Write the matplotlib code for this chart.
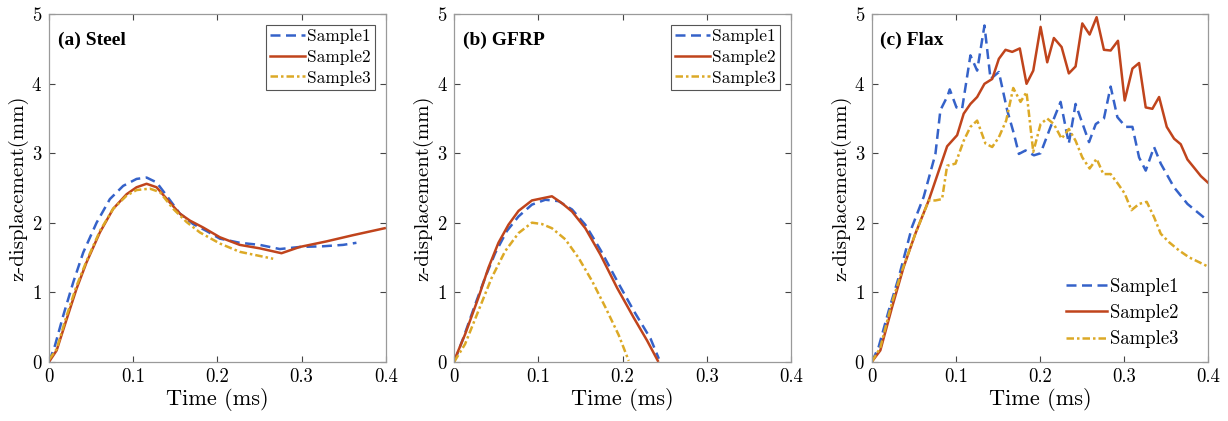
import numpy as np
import matplotlib
matplotlib.use("Agg")
import matplotlib.pyplot as plt

# (a) Steel
steel_t1 = [0, 0.0068, 0.0166, 0.0285, 0.0404, 0.0563, 0.0721, 0.0879, 0.1038, 0.1157, 0.1276,
            0.1395, 0.1553, 0.1711, 0.187, 0.2028, 0.2265, 0.2503, 0.2741, 0.2978, 0.3255, 0.3493, 0.3652]
steel_z1 = [0, 0.23, 0.66, 1.14, 1.57, 2.0, 2.34, 2.53, 2.63, 2.65, 2.58,
            2.39, 2.13, 1.98, 1.88, 1.77, 1.71, 1.68, 1.62, 1.65, 1.66, 1.68, 1.71]
steel_t2 = [0, 0.0088, 0.0207, 0.0325, 0.0444, 0.0602, 0.076, 0.092, 0.1038, 0.1157, 0.1276,
            0.1434, 0.1553, 0.1672, 0.183, 0.2028, 0.2265, 0.2503, 0.2761, 0.2978, 0.3295, 0.3612, 0.3988]
steel_z2 = [0, 0.16, 0.61, 1.05, 1.43, 1.86, 2.20, 2.41, 2.51, 2.56, 2.51,
            2.29, 2.13, 2.03, 1.93, 1.79, 1.68, 1.63, 1.56, 1.65, 1.73, 1.82, 1.92]
steel_t3 = [0, 0.0088, 0.0207, 0.0325, 0.0444, 0.0602, 0.076, 0.092, 0.1038, 0.1196, 0.1315,
            0.1473, 0.1632, 0.179, 0.2028, 0.2265, 0.2464, 0.2662]
steel_z3 = [0.03, 0.18, 0.66, 1.09, 1.45, 1.88, 2.20, 2.39, 2.47, 2.49, 2.44,
            2.20, 2.01, 1.86, 1.70, 1.58, 1.53, 1.48]

# (b) GFRP
gfrp_t1 = [0, 0.0107, 0.0247, 0.0366, 0.0485, 0.0624, 0.0763, 0.0922, 0.1081, 0.1239, 0.1399,
           0.1557, 0.1736, 0.1935, 0.2133, 0.2332, 0.2431]
gfrp_z1 = [0, 0.34, 0.82, 1.21, 1.56, 1.88, 2.09, 2.26, 2.33, 2.31, 2.19,
           1.97, 1.61, 1.16, 0.73, 0.33, 0.04]
gfrp_t2 = [0, 0.0127, 0.0286, 0.0405, 0.0524, 0.0643, 0.0763, 0.0922, 0.1041, 0.116, 0.128,
           0.1399, 0.1557, 0.1736, 0.1935, 0.2133, 0.2292, 0.2419]
gfrp_z2 = [0.02, 0.39, 0.92, 1.35, 1.71, 1.97, 2.17, 2.32, 2.35, 2.38, 2.28,
           2.16, 1.92, 1.54, 1.06, 0.63, 0.30, 0.01]
gfrp_t3 = [0, 0.0127, 0.0286, 0.0445, 0.0604, 0.0763, 0.0922, 0.1041, 0.116, 0.1319, 0.1478,
           0.1637, 0.1796, 0.1954, 0.2073]
gfrp_z3 = [0, 0.25, 0.73, 1.21, 1.59, 1.85, 2.0, 1.98, 1.92, 1.76, 1.49,
           1.16, 0.78, 0.38, 0.01]

# (c) Flax
flax_t1 = [0, 0.0079, 0.0198, 0.0317, 0.0476, 0.0614, 0.0754, 0.0813, 0.09, 0.0924, 0.1004,
           0.1071, 0.117, 0.125, 0.1337, 0.1409, 0.1508, 0.1607, 0.1687, 0.1746, 0.1825,
           0.1925, 0.2004, 0.2123, 0.2242, 0.234, 0.242, 0.258, 0.266, 0.2757, 0.2837,
           0.2917, 0.3016, 0.3096, 0.3175, 0.3254, 0.3353, 0.3433, 0.359, 0.375, 0.387, 0.399]
flax_z1 = [0, 0.21, 0.73, 1.21, 1.94, 2.37, 2.99, 3.62, 3.83, 3.92, 3.66,
           3.64, 4.41, 4.19, 4.84, 4.07, 4.17, 3.62, 3.28, 2.99, 3.04,
           2.97, 3.0, 3.38, 3.74, 3.14, 3.71, 3.16, 3.42, 3.50, 3.96,
           3.52, 3.38, 3.38, 2.94, 2.75, 3.09, 2.85, 2.51, 2.27, 2.15, 2.03]
flax_t2 = [0, 0.0099, 0.0238, 0.0376, 0.0515, 0.0674, 0.0893, 0.1012, 0.109, 0.117, 0.125,
           0.1337, 0.1429, 0.1508, 0.1587, 0.1667, 0.1757, 0.1837, 0.1917, 0.2004, 0.2083,
           0.2162, 0.2254, 0.234, 0.242, 0.25, 0.2587, 0.267, 0.2757, 0.2837, 0.2924,
           0.3004, 0.3096, 0.3175, 0.3254, 0.3333, 0.3413, 0.3504, 0.3591, 0.367, 0.375,
           0.3837, 0.391, 0.4]
flax_z2 = [0, 0.16, 0.78, 1.36, 1.84, 2.32, 3.10, 3.26, 3.57, 3.71, 3.81,
           4.0, 4.07, 4.36, 4.49, 4.46, 4.51, 4.0, 4.19, 4.82, 4.31,
           4.66, 4.53, 4.15, 4.25, 4.87, 4.71, 4.96, 4.49, 4.48, 4.62,
           3.76, 4.22, 4.30, 3.66, 3.64, 3.81, 3.38, 3.21, 3.13, 2.91,
           2.78, 2.67, 2.57]
flax_t3 = [0, 0.0099, 0.0238, 0.0357, 0.0515, 0.0674, 0.0754, 0.0833, 0.0893, 0.0992, 0.109,
           0.117, 0.125, 0.1349, 0.1429, 0.1508, 0.1595, 0.1679, 0.1766, 0.1837, 0.1917,
           0.2004, 0.2083, 0.2162, 0.2254, 0.234, 0.242, 0.25, 0.2587, 0.267, 0.275,
           0.2837, 0.2924, 0.3004, 0.3084, 0.3175, 0.3266, 0.3353, 0.3433, 0.353, 0.365,
           0.377, 0.389, 0.399]
flax_z3 = [0, 0.2, 0.85, 1.31, 1.84, 2.32, 2.32, 2.34, 2.82, 2.85, 3.18,
           3.38, 3.47, 3.14, 3.09, 3.23, 3.47, 3.94, 3.74, 3.88, 3.02,
           3.42, 3.50, 3.42, 3.21, 3.35, 3.18, 2.94, 2.78, 2.92, 2.70,
           2.70, 2.56, 2.42, 2.18, 2.27, 2.30, 2.08, 1.84, 1.72, 1.60,
           1.50, 1.43, 1.37]

labels = ["Sample1", "Sample2", "Sample3"]
titles = ["(a) Steel", "(b) GFRP", "(c) Flax"]
xticks = [0, 0.1, 0.2, 0.3, 0.4]
xticklabels = ["0", "0.1", "0.2", "0.3", "0.4"]
yticks = [0, 1, 2, 3, 4, 5]

panels = [
    [(steel_t1, steel_z1), (steel_t2, steel_z2), (steel_t3, steel_z3)],
    [(gfrp_t1, gfrp_z1), (gfrp_t2, gfrp_z2), (gfrp_t3, gfrp_z3)],
    [(flax_t1, flax_z1), (flax_t2, flax_z2), (flax_t3, flax_z3)],
]

colors = ["#3562c9", "#c0441c", "#dca926"]
styles = [(0, (4, 2.2)), "-", (0, (3, 1.2, 1, 1.2))]

plt.rcParams["font.family"] = ["cmr10", "DejaVu Serif"]
plt.rcParams["mathtext.fontset"] = "cm"
plt.rcParams["axes.formatter.use_mathtext"] = True

fig = plt.figure(figsize=(12.28, 4.21), dpi=100)
lefts = [0.0401, 0.3700, 0.7101]

for i, data in enumerate(panels):
    ax = fig.add_axes([lefts[i], 0.1413, 0.2740, 0.8245])
    for j, (t, z) in enumerate(data):
        ax.plot(t, z, color=colors[j], linestyle=styles[j], linewidth=1.8, label=labels[j])
    ax.set_xlim(0, 0.4)
    ax.set_ylim(0, 5)
    ax.set_xticks(xticks)
    ax.set_xticklabels(xticklabels)
    ax.set_yticks(yticks)
    ax.tick_params(direction="in", top=True, right=True, length=4, width=0.8,
                   labelsize=13.5, color="#444444", pad=5)
    for s in ax.spines.values():
        s.set_color("#9a9a9a")
        s.set_linewidth(0.9)
    ax.set_xlabel("Time (ms)", fontsize=16, labelpad=1)
    ax.set_ylabel("z-displacement(mm)", fontsize=15, labelpad=2)
    ax.text(0.025, 0.925, titles[i], transform=ax.transAxes, fontsize=14,
            fontweight="bold", family="Liberation Serif", va="center", ha="left")
    if i < 2:
        leg = ax.legend(loc="upper right", fontsize=12.5, handlelength=2.0, handletextpad=0.15,
                        borderpad=0.25, labelspacing=0.3, borderaxespad=0.6,
                        fancybox=False, edgecolor="#555555", framealpha=1)
        leg.get_frame().set_linewidth(0.8)
    else:
        ax.legend(loc="lower right", bbox_to_anchor=(0.95, 0.0), fontsize=13.5,
                  handlelength=2.2, handletextpad=0.15, labelspacing=0.45,
                  borderaxespad=0.3, frameon=False)

fig.savefig("out.png", dpi=100)
